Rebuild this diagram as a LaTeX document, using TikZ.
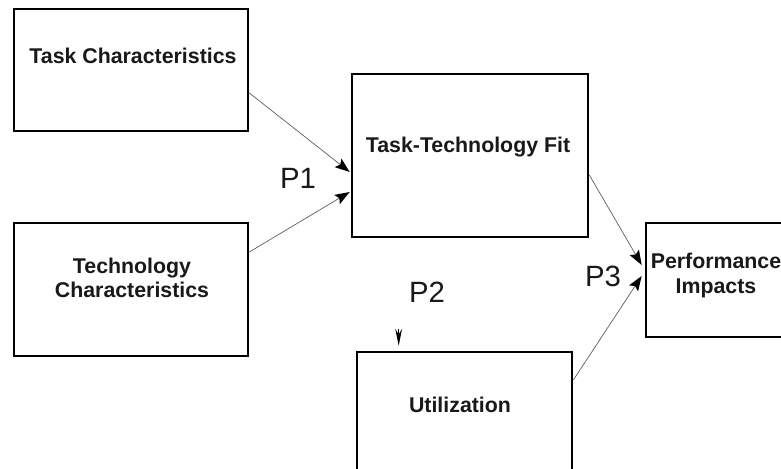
\documentclass[tikz,border=0pt]{standalone}
\usepackage{fontspec}
\setmainfont{Liberation Sans}
\usetikzlibrary{arrows.meta,calc}
\begin{document}
\begin{tikzpicture}[x=0.75pt,y=-0.75pt,
  box/.style={draw=black, line width=2pt, fill=white, inner sep=0pt},
  boxtext/.style={font=\bfseries\fontsize{16}{18.5}\selectfont, align=center, text=black!90, inner sep=0pt},
  plabel/.style={font=\fontsize{22}{26}\selectfont, inner sep=0pt, text=black!90},
  link/.style={draw=black!65, line width=0.5pt, -{Stealth[length=11pt,width=8pt,inset=2pt,black,line width=0.8pt]}}
]
\useasboundingbox (0,0) rectangle (781,468);
\fill[white] (0,0) rectangle (781,468);

% boxes
\node[box, minimum width=175.5pt, minimum height=91.5pt] (tc) at (131,70) {};
\node[box, minimum width=175.5pt, minimum height=99.75pt] (tech) at (131,289.5) {};
\node[box, minimum width=177pt, minimum height=122.25pt] (ttf) at (470,155.5) {};
\node[box, minimum width=105pt, minimum height=85.5pt] (perf) at (716,280) {};
\node[box, minimum width=161.25pt, minimum height=103.5pt] (util) at (464.5,421) {};

% box texts
\node[boxtext, anchor=base] (tcl) at (133,63) {Task Characteristics};
\node[boxtext] (techl) at (132,278) {Technology\\Characteristics};
\node[boxtext, anchor=base] (ttfl) at (468,152) {Task-Technology Fit};
\node[boxtext] (perfl) at (716,275.5) {Performance\\Impacts};
\node[boxtext, anchor=base] (utill) at (460,412) {Utilization};

% P labels
\node[plabel] (p1) at (298,178) {P1};
\node[plabel] (p2) at (427,292) {P2};
\node[plabel] (p3) at (603,276) {P3};

% connector end points
\coordinate (a1s) at ($(tc.east)+(0,23)$);
\coordinate (a1e) at ($(ttf.west)+(-1,16.5)$);
\coordinate (a2s) at ($(tech.east)+(0,-37.5)$);
\coordinate (a2e) at ($(ttf.west)+(-1,36.5)$);
\coordinate (a3s) at ($(ttf.east)+(0,19.5)$);
\coordinate (a3e) at ($(perf.west)+(-3,-15)$);
\coordinate (a4s) at ($(util.east)+(0,-41)$);
\coordinate (a4e) at ($(perf.west)+(-3,-4)$);
\coordinate (p2tail) at ($(util.north west)+(43,-22)$);
\coordinate (p2tip) at ($(util.north west)+(43,-5)$);

% connectors
\draw[link] (a1s) -- (a1e);
\draw[link] (a2s) -- (a2e);
\draw[link] (a3s) -- (a3e);
\draw[link] (a4s) -- (a4e);
\draw[black, line width=0.3pt, -{Stealth[length=12.5pt,width=5pt,black,line width=0.8pt]}] (p2tail) -- (p2tip);
\end{tikzpicture}
\end{document}
